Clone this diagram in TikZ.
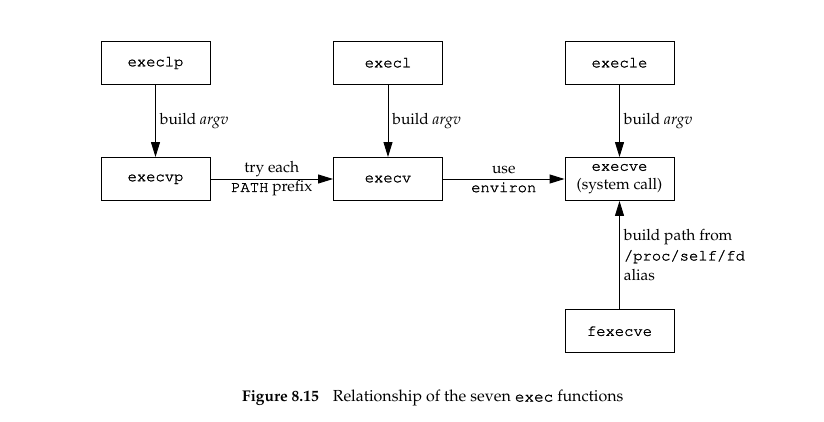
\documentclass[tikz,border=0pt]{standalone}
\usepackage[T1]{fontenc}
\usepackage{mathpazo}
\renewcommand\ttdefault{pcr}
\newcommand\heavy[1]{\special{pdf:literal direct q 2 Tr 0.22 w}#1\special{pdf:literal direct Q}}
\newcommand\ctt[1]{\heavy{\texttt{#1}}}
\usetikzlibrary{arrows.meta}
\begin{document}
\begin{tikzpicture}[x=1pt,y=-1pt,
  fn/.style={draw,line width=0.9pt,minimum width=109pt,minimum height=43pt,inner sep=0pt,font=\fontsize{15.5}{19}\selectfont},
  conn/.style={line width=0.9pt,-{Triangle[length=15pt,width=9pt]}},
  lbl/.style={font=\fontsize{15.5}{20}\selectfont,inner sep=0pt}]
\useasboundingbox (0,0) rectangle (824,422);
\node[fn] (execlp) at (155.5,62.5) {\ctt{execlp}};
\node[fn] (execl) at (388,62.5) {\ctt{execl}};
\node[fn] (execle) at (619.5,62.5) {\ctt{execle}};
\node[fn] (execvp) at (155.5,179) {\ctt{execvp}};
\node[fn] (execv) at (388,179) {\ctt{execv}};
\node[fn,align=center] (execve) at (619.5,179) {\ctt{execve}\\(system call)};
\node[fn] (fexecve) at (619.5,331) {\ctt{fexecve}};
\draw[conn] (execlp) -- node[lbl,anchor=west,xshift=4pt]{build \textit{argv}} (execvp);
\draw[conn] (execl) -- node[lbl,anchor=west,xshift=4pt]{build \textit{argv}} (execv);
\draw[conn] (execle) -- node[lbl,anchor=west,xshift=4pt]{build \textit{argv}} (execve);
\draw[conn] (execvp) -- node[lbl,align=center]{try each\\[-1pt]\ctt{PATH} prefix} (execv);
\draw[conn] (execv) -- node[lbl,align=center]{use\\[-1pt]\ctt{environ}} (execve);
\draw[conn] (fexecve) -- node[lbl,anchor=west,xshift=4pt,align=left]{build path from\\\ctt{/proc/self/fd}\\alias} (execve);
\node[lbl,anchor=west] (cap) at (242,398) {\textbf{Figure 8.15}\hspace{14pt}\fontsize{16}{20}\selectfont Relationship of the seven \ctt{exec} functions};
\end{tikzpicture}
\end{document}
